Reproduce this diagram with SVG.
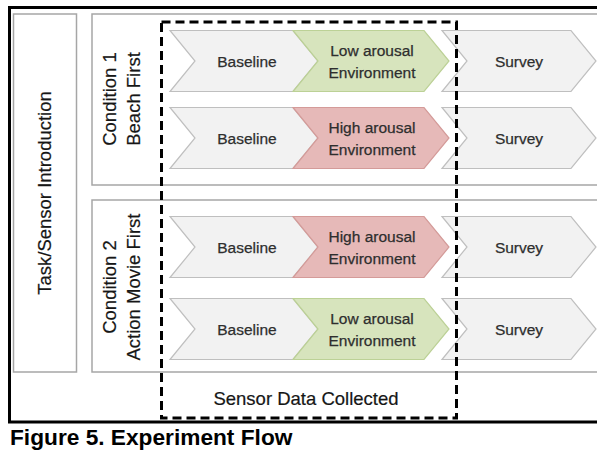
<svg xmlns="http://www.w3.org/2000/svg" width="597" height="452" viewBox="0 0 597 452">
  <style>
    .frame { fill: none; stroke: #000; stroke-width: 3; }
    .panel { fill: #fff; stroke: #a6a6a6; stroke-width: 1.5; }
    .chev { stroke-width: 1.2; }
    .gray { fill: #f2f2f2; stroke: #bfbfbf; }
    .green { fill: #d7e4bd; stroke: #bcd196; }
    .red { fill: #e6b9b8; stroke: #d49b99; }
    .lbl { font-family: "Liberation Sans", Arial, sans-serif; font-size: 15.5px; fill: #2e2e2e; stroke: #2e2e2e; stroke-width: 0.25; text-anchor: middle; }
    .big { font-family: "Liberation Sans", Arial, sans-serif; font-size: 18.5px; fill: #161616; stroke: #161616; stroke-width: 0.2; text-anchor: middle; }
    .cap { font-family: "Liberation Sans", Arial, sans-serif; font-size: 22.7px; font-weight: bold; fill: #000; }
    .dash { fill: none; stroke: #000; stroke-width: 3; stroke-dasharray: 9 5; }
  </style>
  <defs>
    <!-- chevron shapes at the origin; 25px point depth, 61px tall -->
    <path id="chevBase" d="M0,0 H123 L148,30.5 L123,61 H0 L25,30.5 Z"/>
    <path id="chevEnv" d="M0,0 H131 L156,30.5 L131,61 H0 L25,30.5 Z"/>
    <path id="chevSurvey" d="M0,0 H129 L154,30.5 L129,61 H0 L25,30.5 Z"/>
  </defs>

  <rect width="597" height="452" fill="#fff"/>

  <!-- outer figure frame -->
  <path class="frame" d="M597,7.5 H9.5 V422 H597"/>

  <g id="intro">
    <rect class="panel" x="13.5" y="14" width="63" height="358"/>
    <text class="big" transform="translate(51,193) rotate(-90)">Task/Sensor Introduction</text>
  </g>

  <g id="condition1">
    <rect class="panel" x="92" y="14" width="510" height="171"/>
    <text class="big" transform="rotate(-90 116 99)" x="116" y="99">Condition 1</text>
    <text class="big" transform="rotate(-90 140 99)" x="140" y="99">Beach First</text>
  </g>

  <g id="condition2">
    <rect class="panel" x="92" y="200" width="510" height="172"/>
    <text class="big" transform="rotate(-90 116 287)" x="116" y="287">Condition 2</text>
    <text class="big" transform="rotate(-90 140 287)" x="140" y="287">Action Movie First</text>
  </g>

  <!-- row 1 -->
  <g id="c1-baseline" transform="translate(170,30.5)">
    <use href="#chevBase" class="chev gray"/>
    <text class="lbl" x="77" y="36">Baseline</text>
  </g>
  <g id="c1-low" transform="translate(293,30.5)">
    <use href="#chevEnv" class="chev green"/>
    <text class="lbl" x="79" y="25">Low arousal</text>
    <text class="lbl" x="79" y="47">Environment</text>
  </g>
  <g id="c1-survey1" transform="translate(442,30.5)">
    <use href="#chevSurvey" class="chev gray"/>
    <text class="lbl" x="77" y="36">Survey</text>
  </g>

  <!-- row 2 -->
  <g id="c1-baseline2" transform="translate(170,107.5)">
    <use href="#chevBase" class="chev gray"/>
    <text class="lbl" x="77" y="36">Baseline</text>
  </g>
  <g id="c1-high" transform="translate(293,107.5)">
    <use href="#chevEnv" class="chev red"/>
    <text class="lbl" x="79" y="25">High arousal</text>
    <text class="lbl" x="79" y="47">Environment</text>
  </g>
  <g id="c1-survey2" transform="translate(442,107.5)">
    <use href="#chevSurvey" class="chev gray"/>
    <text class="lbl" x="77" y="36">Survey</text>
  </g>

  <!-- row 3 -->
  <g id="c2-baseline" transform="translate(170,216.5)">
    <use href="#chevBase" class="chev gray"/>
    <text class="lbl" x="77" y="36">Baseline</text>
  </g>
  <g id="c2-high" transform="translate(293,216.5)">
    <use href="#chevEnv" class="chev red"/>
    <text class="lbl" x="79" y="25">High arousal</text>
    <text class="lbl" x="79" y="47">Environment</text>
  </g>
  <g id="c2-survey1" transform="translate(442,216.5)">
    <use href="#chevSurvey" class="chev gray"/>
    <text class="lbl" x="77" y="36">Survey</text>
  </g>

  <!-- row 4 -->
  <g id="c2-baseline2" transform="translate(170,298.5)">
    <use href="#chevBase" class="chev gray"/>
    <text class="lbl" x="77" y="36">Baseline</text>
  </g>
  <g id="c2-low" transform="translate(293,298.5)">
    <use href="#chevEnv" class="chev green"/>
    <text class="lbl" x="79" y="25">Low arousal</text>
    <text class="lbl" x="79" y="47">Environment</text>
  </g>
  <g id="c2-survey2" transform="translate(442,298.5)">
    <use href="#chevSurvey" class="chev gray"/>
    <text class="lbl" x="77" y="36">Survey</text>
  </g>

  <!-- sensor data window -->
  <g id="sensor-window">
    <rect class="dash" x="161.5" y="22" width="295" height="396"/>
    <text class="big" x="306" y="405">Sensor Data Collected</text>
  </g>

  <g id="connectors"></g>

  <text class="cap" x="10" y="445">Figure 5. Experiment Flow</text>
</svg>
